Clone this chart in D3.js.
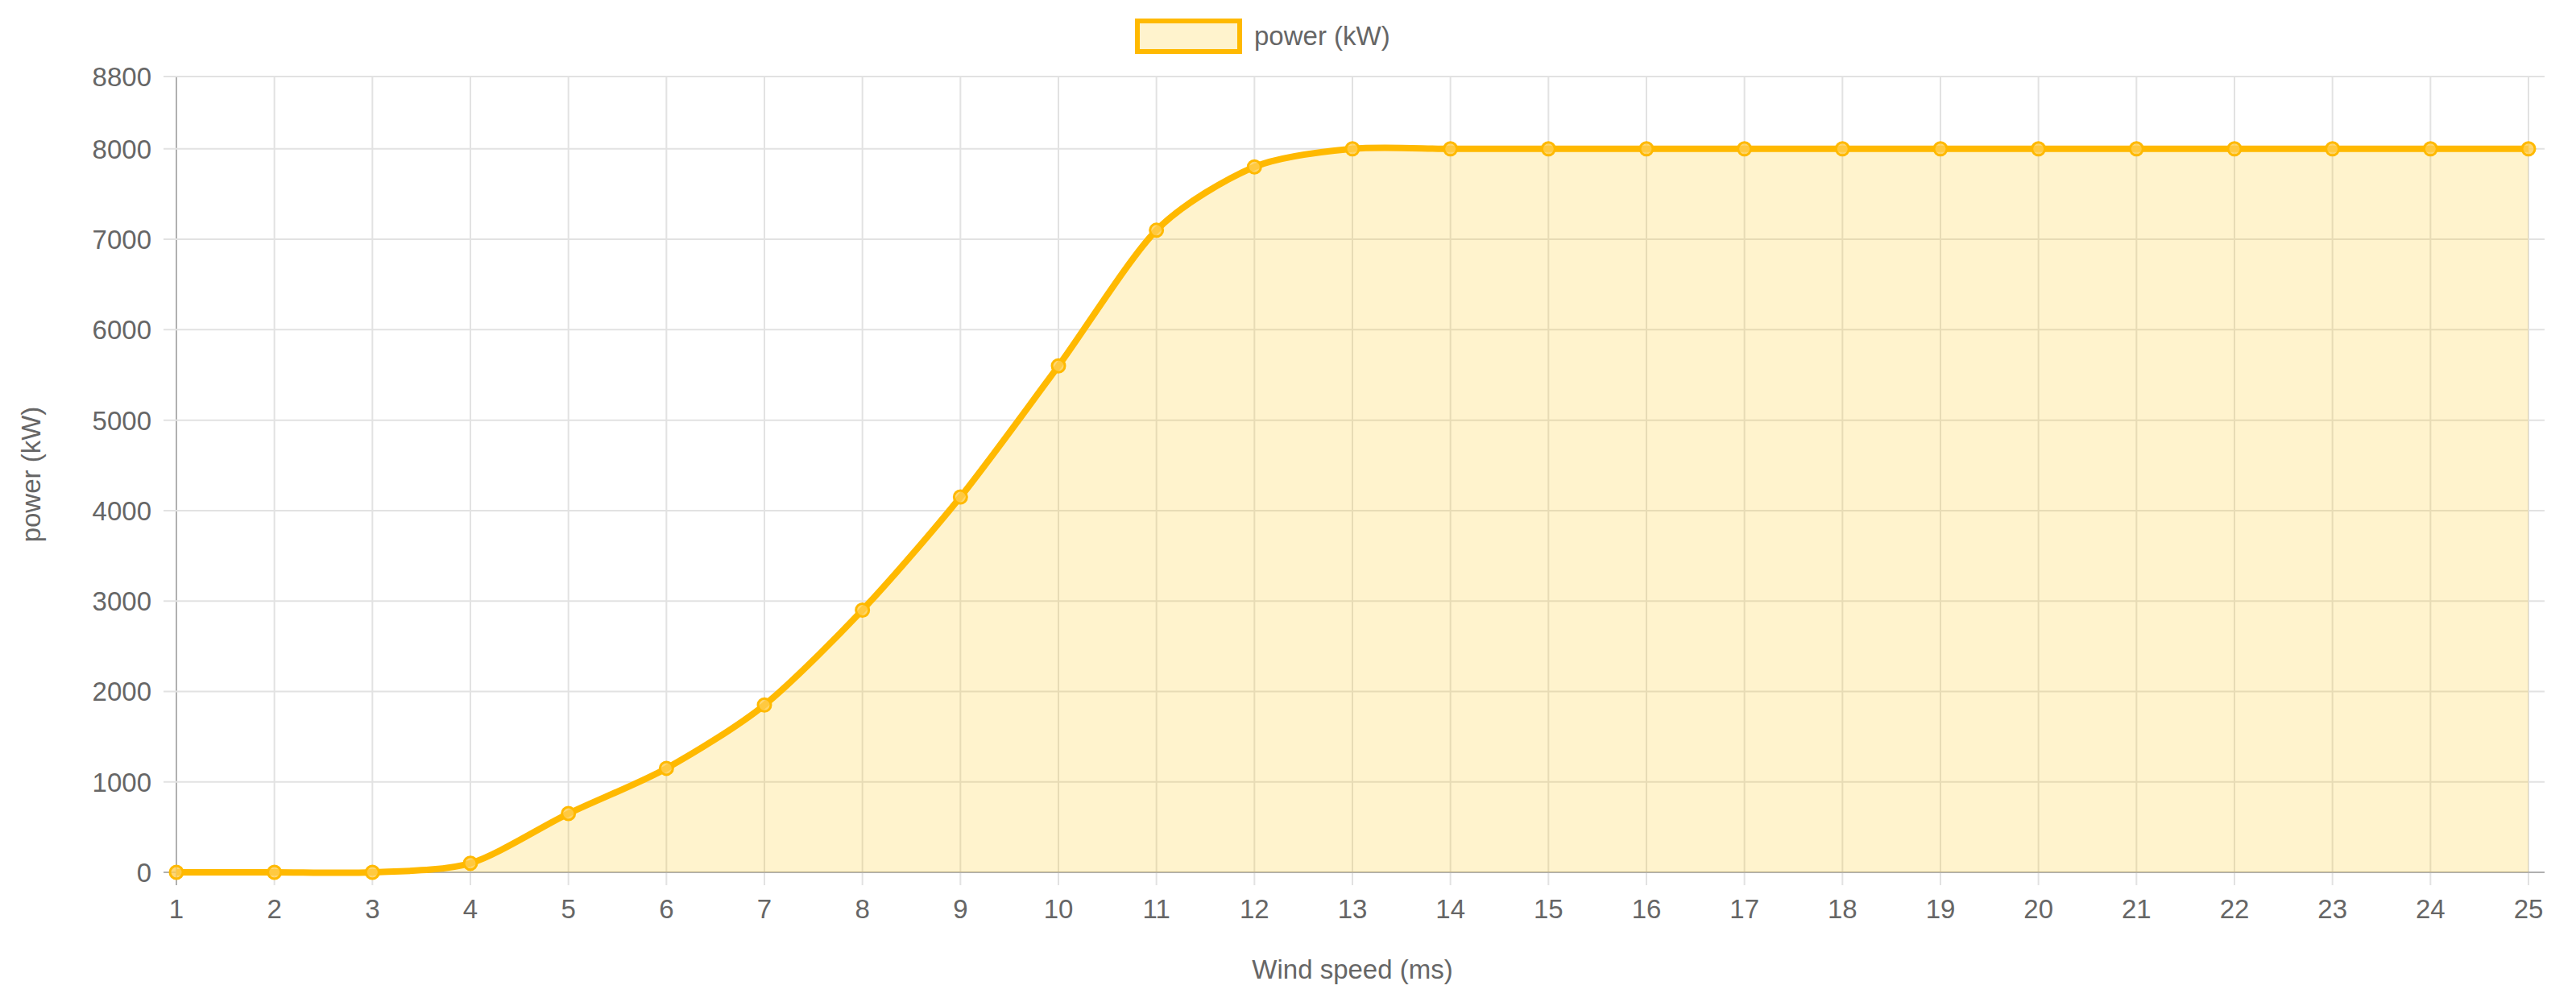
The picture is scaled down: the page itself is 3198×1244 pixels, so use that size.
<!DOCTYPE html>
<html><head><meta charset="utf-8">
<script src="https://cdn.jsdelivr.net/npm/d3@7"></script>
<style>body{margin:0;background:#fff}text{font-family:"Liberation Sans",Arial,sans-serif;fill:#666}</style>
</head><body>
<svg id="c" width="3198" height="1244"></svg>
<script>
const windSpeeds=[1,2,3,4,5,6,7,8,9,10,11,12,13,14,15,16,17,18,19,20,21,22,23,24,25];
const power=[0,0,0,100,650,1150,1850,2900,4150,5600,7100,7800,8000,8000,8000,8000,8000,8000,8000,8000,8000,8000,8000,8000,8000];
const yTicks=[0,1000,2000,3000,4000,5000,6000,7000,8000,8800];
const svg=d3.select("#c");
const L=219,R=3139,T=95,B=1083;
const x=d3.scaleLinear().domain([1,25]).range([L,R]);
const y=d3.scaleLinear().domain([0,8800]).range([B,T]);
const g=svg.append("g");
g.selectAll(".gx").data(windSpeeds).join("line").attr("x1",d=>x(d)).attr("x2",d=>x(d)).attr("y1",T).attr("y2",B+16).attr("stroke",d=>d===1?"#b0b0b0":"#e2e2e2").attr("stroke-width",2);
g.selectAll(".gy").data(yTicks).join("line").attr("x1",L-16).attr("x2",R+20).attr("y1",d=>y(d)).attr("y2",d=>y(d)).attr("stroke",d=>d===0?"#b0b0b0":"#e2e2e2").attr("stroke-width",2);
const curve=d3.curveCardinal.tension(0.2);
const pts=windSpeeds.map((d,i)=>[d,power[i]]);
g.append("path").datum(pts).attr("d",d3.area().x(d=>x(d[0])).y0(y(0)).y1(d=>y(d[1])).curve(curve)).attr("fill","rgba(255,193,7,0.2)");
g.append("path").datum(pts).attr("d",d3.line().x(d=>x(d[0])).y(d=>y(d[1])).curve(curve)).attr("fill","none").attr("stroke","#FFB900").attr("stroke-width",8);
g.selectAll("circle").data(pts).join("circle").attr("cx",d=>x(d[0])).attr("cy",d=>y(d[1])).attr("r",8).attr("fill","rgba(255,205,80,0.8)").attr("stroke","#FFB900").attr("stroke-width",3);
g.selectAll(".tx").data(windSpeeds).join("text").attr("x",d=>x(d)).attr("y",1140).attr("text-anchor","middle").attr("font-size",33).text(d=>d);
g.selectAll(".ty").data(yTicks).join("text").attr("x",188).attr("y",d=>y(d)+12).attr("text-anchor","end").attr("font-size",33).text(d=>d);
svg.append("text").attr("x",(L+R)/2).attr("y",1215).attr("text-anchor","middle").attr("font-size",33).text("Wind speed (ms)");
svg.append("text").attr("transform",`translate(50,${(T+B)/2}) rotate(-90)`).attr("text-anchor","middle").attr("font-size",33).text("power (kW)");
svg.append("rect").attr("x",1412).attr("y",26).attr("width",127).attr("height",38).attr("fill","rgba(255,193,7,0.2)").attr("stroke","#FFB900").attr("stroke-width",6);
svg.append("text").attr("x",1557).attr("y",56).attr("font-size",33).text("power (kW)");
</script></body></html>
